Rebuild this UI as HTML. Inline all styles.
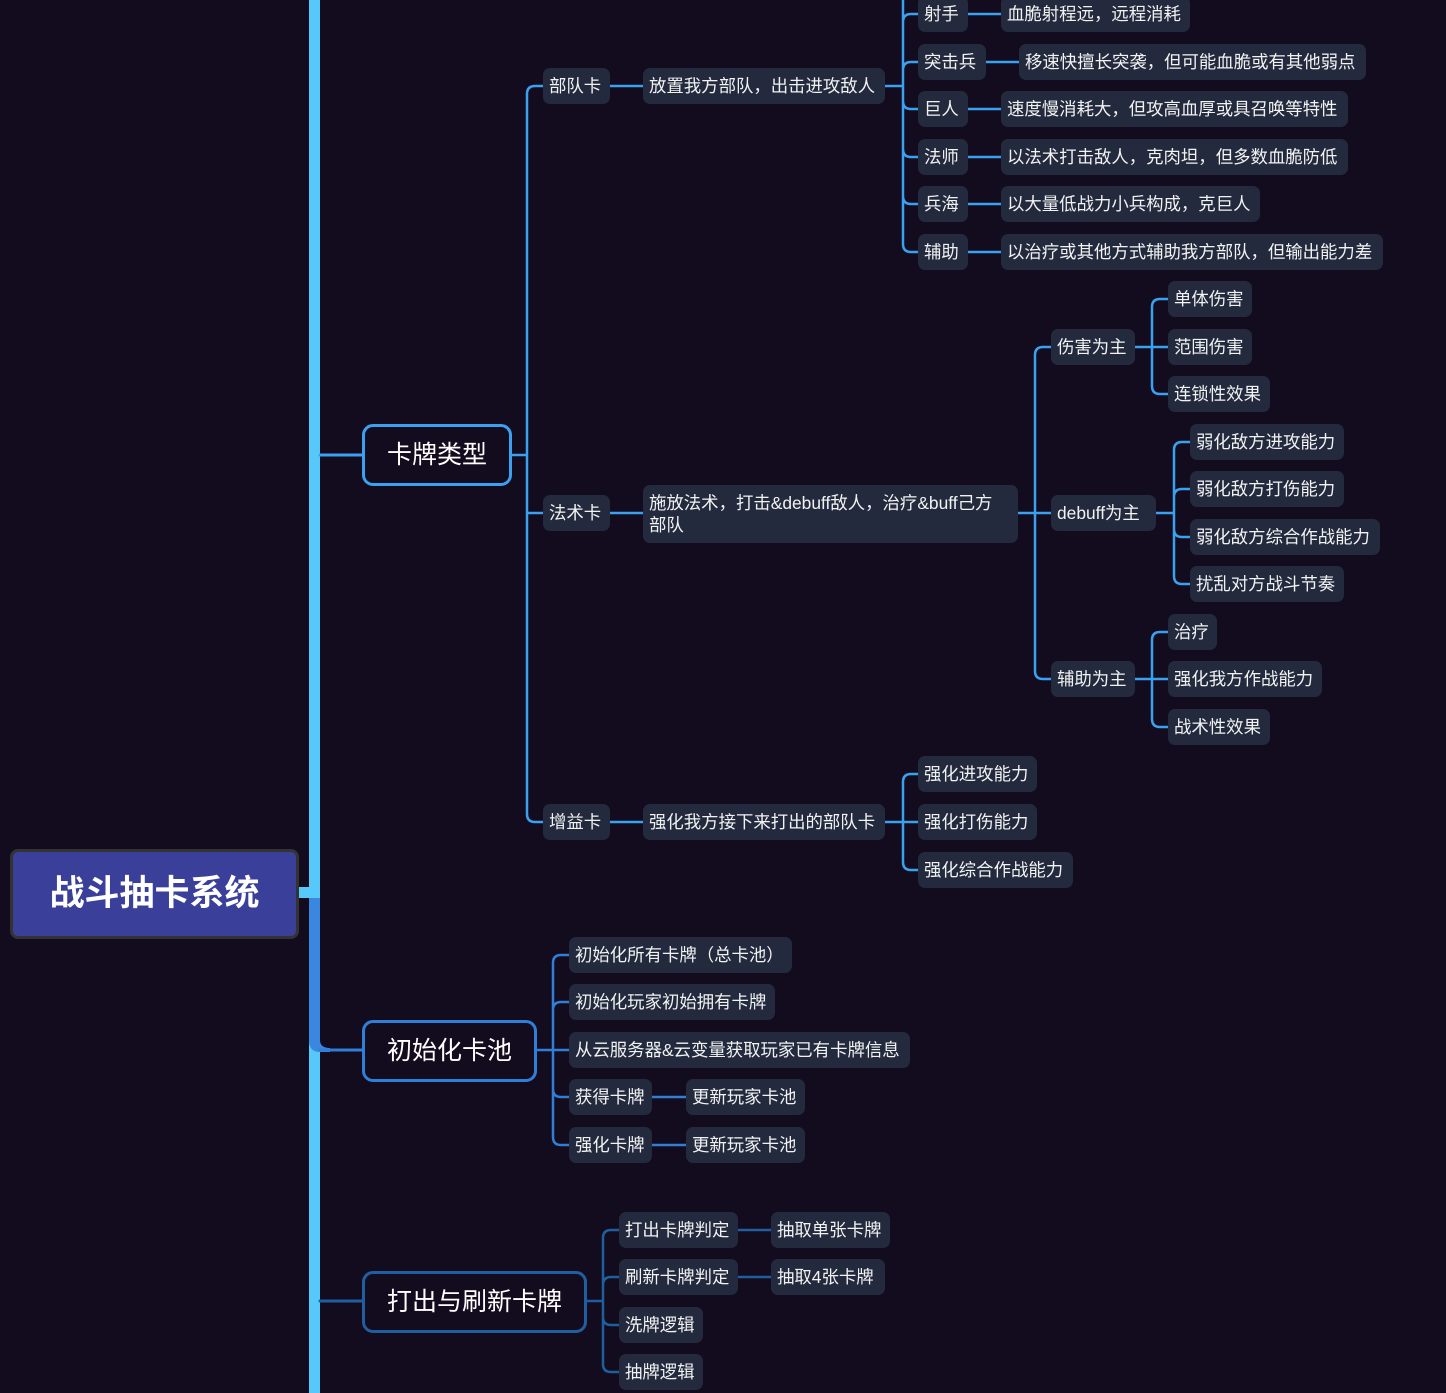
<!DOCTYPE html>
<html><head><meta charset="utf-8"><style>
html,body{margin:0;padding:0;background:#130b1e;}
body{width:1446px;height:1393px;position:relative;overflow:hidden;font-family:"Liberation Sans","Noto Sans CJK SC",sans-serif;}
.n{position:absolute;height:36px;line-height:37px;background:#232a3e;color:#f2f2f2;font-size:17.4px;border-radius:7px;padding:0 6px;box-sizing:border-box;white-space:nowrap;overflow:hidden;}
.m{position:absolute;height:62px;line-height:57px;color:#fff;font-size:25px;text-align:center;border-radius:11px;box-sizing:border-box;border:3px solid #3aa0f0;background:#130b1e;}
svg{position:absolute;left:0;top:0;}
</style></head><body>
<svg width="1446" height="1393" fill="none" stroke-linecap="round">
<rect x="309" y="0" width="11" height="1393" fill="#56c8fa" stroke="none"/>
<rect x="298" y="887" width="22" height="11" fill="#56c8fa" stroke="none"/>
<path d="M309 898 H320 V1040 Q320 1048 330 1048 V1052 H320 Q309 1052 309 1040 Z" fill="#3a87e0" stroke="none"/>
<path d="M320 1050 H362" stroke="#2f7fd8" stroke-width="3"/>
<path d="M320 455 H362" stroke="#3aa0f0" stroke-width="3"/>
<path d="M320 1301 H362" stroke="#1f5fa0" stroke-width="3"/>
<g stroke="#3aa0f0" stroke-width="2.5">
<path d="M511 455 H527 M527 455 V94 Q527 86 535 86 H543 M527 455 V814 Q527 822 535 822 H543 M527 455 V513 H543"/>
<path d="M610 86 H643 M610 513 H643 M610 822 H643"/>
<path d="M885 86 H903 M903 0 V244 Q903 252 911 252 H918 M903 14 V22 Q903 14 911 14 H918 M903 86 V70 Q903 62 911 62 H918 M903 86 V101 Q903 109 911 109 H918 M903 149 Q903 157 911 157 H918 M903 196 Q903 204 911 204 H918"/>
<path d="M968 14 H1001 M986 62 H1019 M968 109 H1001 M968 157 H1001 M968 204 H1001 M968 252 H1001"/>
<path d="M1018 513 H1051 M1035 513 V355 Q1035 347 1043 347 H1051 M1035 513 V671 Q1035 679 1043 679 H1051"/>
<path d="M1135 347 H1168 M1152 347 V307 Q1152 299 1160 299 H1168 M1152 347 V386 Q1152 394 1160 394 H1168"/>
<path d="M1156 513 H1174 M1174 450 Q1174 442 1182 442 H1190 M1174 450 V576 Q1174 584 1182 584 H1190 M1174 497 Q1174 489 1182 489 H1190 M1174 529 Q1174 537 1182 537 H1190"/>
<path d="M1135 679 H1168 M1152 679 V640 Q1152 632 1160 632 H1168 M1152 679 V719 Q1152 727 1160 727 H1168"/>
<path d="M885 822 H918 M903 822 V782 Q903 774 911 774 H918 M903 822 V862 Q903 870 911 870 H918"/>
</g>
<g stroke="#2f7fd8" stroke-width="2.5">
<path d="M536 1050 H569 M553 1050 V963 Q553 955 561 955 H569 M553 1050 V1137 Q553 1145 561 1145 H569 M553 1010 Q553 1002 561 1002 H569 M553 1089 Q553 1097 561 1097 H569 M652 1097 H686 M652 1145 H686"/>
</g>
<g stroke="#1f5fa0" stroke-width="2.5">
<path d="M586 1301 H603 M603 1301 V1238 Q603 1230 611 1230 H619 M603 1301 V1364 Q603 1372 611 1372 H619 M603 1285 Q603 1277 611 1277 H619 M603 1317 Q603 1325 611 1325 H619 M738 1230 H771 M738 1277 H771"/>
</g>
</svg>

<div style="position:absolute;left:10px;top:849px;width:289px;height:90px;background:#3a3f9a;border:3px solid #333;border-radius:8px;box-sizing:border-box;color:#fff;font-size:35px;font-weight:bold;text-align:center;line-height:84px;">战斗抽卡系统</div>

<div class="m" style="left:362px;top:424px;width:150px;">卡牌类型</div>
<div class="m" style="left:362px;top:1020px;width:175px;border-color:#2f7fd8;">初始化卡池</div>
<div class="m" style="left:362px;top:1271px;width:225px;border-color:#1f5fa0;">打出与刷新卡牌</div>

<div class="n" style="left:918px;top:-4px;width:50px;">射手</div>
<div class="n" style="left:1001px;top:-4px;width:189px;">血脆射程远，远程消耗</div>
<div class="n" style="left:918px;top:44px;width:68px;">突击兵</div>
<div class="n" style="left:1019px;top:44px;width:347px;">移速快擅长突袭，但可能血脆或有其他弱点</div>
<div class="n" style="left:918px;top:91px;width:50px;">巨人</div>
<div class="n" style="left:1001px;top:91px;width:347px;">速度慢消耗大，但攻高血厚或具召唤等特性</div>
<div class="n" style="left:918px;top:139px;width:50px;">法师</div>
<div class="n" style="left:1001px;top:139px;width:347px;">以法术打击敌人，克肉坦，但多数血脆防低</div>
<div class="n" style="left:918px;top:186px;width:50px;">兵海</div>
<div class="n" style="left:1001px;top:186px;width:259px;">以大量低战力小兵构成，克巨人</div>
<div class="n" style="left:918px;top:234px;width:50px;">辅助</div>
<div class="n" style="left:1001px;top:234px;width:382px;">以治疗或其他方式辅助我方部队，但输出能力差</div>

<div class="n" style="left:543px;top:68px;width:67px;">部队卡</div>
<div class="n" style="left:643px;top:68px;width:242px;">放置我方部队，出击进攻敌人</div>
<div class="n" style="left:543px;top:495px;width:67px;">法术卡</div>
<div class="n" style="left:643px;top:485px;width:375px;height:58px;line-height:22px;padding-top:7px;">施放法术，打击&amp;debuff敌人，治疗&amp;buff己方<br>部队</div>
<div class="n" style="left:543px;top:804px;width:67px;">增益卡</div>
<div class="n" style="left:643px;top:804px;width:242px;">强化我方接下来打出的部队卡</div>

<div class="n" style="left:1051px;top:329px;width:84px;">伤害为主</div>
<div class="n" style="left:1168px;top:281px;width:84px;">单体伤害</div>
<div class="n" style="left:1168px;top:329px;width:84px;">范围伤害</div>
<div class="n" style="left:1168px;top:376px;width:102px;">连锁性效果</div>
<div class="n" style="left:1051px;top:495px;width:105px;">debuff为主</div>
<div class="n" style="left:1190px;top:424px;width:154px;">弱化敌方进攻能力</div>
<div class="n" style="left:1190px;top:471px;width:154px;">弱化敌方打伤能力</div>
<div class="n" style="left:1190px;top:519px;width:190px;">弱化敌方综合作战能力</div>
<div class="n" style="left:1190px;top:566px;width:154px;">扰乱对方战斗节奏</div>
<div class="n" style="left:1051px;top:661px;width:84px;">辅助为主</div>
<div class="n" style="left:1168px;top:614px;width:49px;">治疗</div>
<div class="n" style="left:1168px;top:661px;width:154px;">强化我方作战能力</div>
<div class="n" style="left:1168px;top:709px;width:102px;">战术性效果</div>

<div class="n" style="left:918px;top:756px;width:119px;">强化进攻能力</div>
<div class="n" style="left:918px;top:804px;width:119px;">强化打伤能力</div>
<div class="n" style="left:918px;top:852px;width:155px;">强化综合作战能力</div>

<div class="n" style="left:569px;top:937px;width:223px;">初始化所有卡牌（总卡池）</div>
<div class="n" style="left:569px;top:984px;width:206px;">初始化玩家初始拥有卡牌</div>
<div class="n" style="left:569px;top:1032px;width:341px;">从云服务器&amp;云变量获取玩家已有卡牌信息</div>
<div class="n" style="left:569px;top:1079px;width:83px;">获得卡牌</div>
<div class="n" style="left:686px;top:1079px;width:119px;">更新玩家卡池</div>
<div class="n" style="left:569px;top:1127px;width:83px;">强化卡牌</div>
<div class="n" style="left:686px;top:1127px;width:119px;">更新玩家卡池</div>

<div class="n" style="left:619px;top:1212px;width:119px;">打出卡牌判定</div>
<div class="n" style="left:771px;top:1212px;width:119px;">抽取单张卡牌</div>
<div class="n" style="left:619px;top:1259px;width:119px;">刷新卡牌判定</div>
<div class="n" style="left:771px;top:1259px;width:114px;">抽取4张卡牌</div>
<div class="n" style="left:619px;top:1307px;width:84px;">洗牌逻辑</div>
<div class="n" style="left:619px;top:1354px;width:84px;">抽牌逻辑</div>
</body></html>
